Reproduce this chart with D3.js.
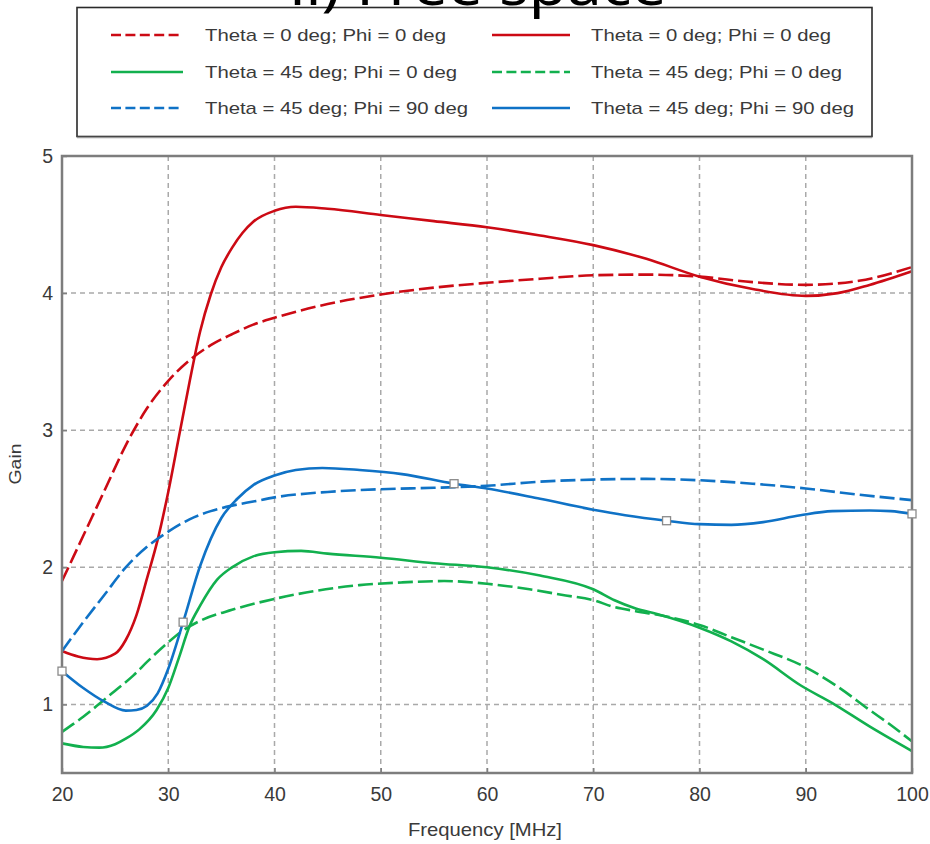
<!DOCTYPE html>
<html>
<head>
<meta charset="utf-8">
<script src="https://cdn.jsdelivr.net/npm/d3@7"></script>
<style>
  html, body { margin: 0; padding: 0; background: #fff; }
  svg { display: block; }
</style>
</head>
<body>
<svg id="chart" width="930" height="844"></svg>
<script>
// ---------------- data ----------------
const titleText = "ii) Free space";
const xTicks = [20, 30, 40, 50, 60, 70, 80, 90, 100];
const yTicks = [1, 2, 3, 4, 5];
const xLabel = "Frequency [MHz]";
const yLabel = "Gain";

// Theta = 0 deg; Phi = 0 deg (dashed)
const redDashF = [20, 22, 24, 26, 28, 30, 32, 34, 36, 38, 40, 45, 50, 55, 60, 65, 70, 75, 80, 85, 90, 95, 100];
const redDashV = [1.9, 2.23, 2.56, 2.89, 3.16, 3.36, 3.51, 3.62, 3.7, 3.77, 3.82, 3.92, 3.99, 4.04, 4.075, 4.105, 4.13, 4.135, 4.12, 4.08, 4.06, 4.09, 4.19];

// Theta = 0 deg; Phi = 0 deg (solid)
const redSolidF = [20, 21.5, 23.3, 25, 26, 27, 28, 29, 30, 31, 32, 33, 34, 35, 36, 37, 38, 40, 42, 45, 50, 55, 60, 65, 70, 75, 80, 85, 90, 93, 96, 100];
const redSolidV = [1.39, 1.35, 1.33, 1.37, 1.47, 1.65, 1.92, 2.2, 2.55, 2.95, 3.35, 3.72, 3.99, 4.19, 4.33, 4.44, 4.52, 4.6, 4.63, 4.615, 4.57, 4.525, 4.48, 4.42, 4.35, 4.25, 4.12, 4.03, 3.98, 4.0, 4.06, 4.16];

// Theta = 45 deg; Phi = 0 deg (solid)
const greenSolidF = [20, 22, 23.5, 25, 26, 27.3, 28.9, 30, 31, 32, 33, 34.6, 36, 38, 40, 42.5, 45, 50, 55, 60, 65, 70, 72, 74, 76, 80, 83, 86, 89.5, 92.5, 96, 100];
const greenSolidV = [0.716, 0.69, 0.685, 0.71, 0.75, 0.82, 0.96, 1.12, 1.34, 1.57, 1.72, 1.91, 2.0, 2.08, 2.11, 2.12, 2.1, 2.07, 2.03, 2.0, 1.94, 1.84, 1.76, 1.7, 1.66, 1.56, 1.46, 1.33, 1.14, 1.01, 0.84, 0.66];

// Theta = 45 deg; Phi = 0 deg (dashed)
const greenDashF = [20, 22, 23.6, 25, 26.7, 28, 29.8, 31.4, 33, 36, 40, 44, 48, 52, 56, 60, 64, 67, 70, 72, 74, 77, 80, 83, 86, 90, 93, 96, 98, 100];
const greenDashV = [0.8, 0.91, 1.01, 1.1, 1.21, 1.31, 1.44, 1.54, 1.61, 1.69, 1.77, 1.83, 1.87, 1.89, 1.9, 1.88, 1.84, 1.8, 1.76, 1.71, 1.68, 1.64, 1.58, 1.49, 1.4, 1.27, 1.13, 0.96, 0.85, 0.73];

// Theta = 45 deg; Phi = 90 deg (dashed)
const blueDashF = [20, 22, 24, 26, 28, 30, 32, 34, 36, 38, 40, 45, 50, 55, 60, 65, 70, 75, 80, 85, 90, 95, 100];
const blueDashV = [1.39, 1.6, 1.8, 2.0, 2.15, 2.26, 2.35, 2.41, 2.45, 2.48, 2.51, 2.55, 2.57, 2.58, 2.595, 2.625, 2.64, 2.645, 2.635, 2.61, 2.575, 2.53, 2.49];

// Theta = 45 deg; Phi = 90 deg (solid)
const blueSolidF = [20, 22, 24, 26, 27, 28, 29, 30, 31.4, 33, 35, 36.5, 38, 40, 42, 44.5, 48, 52, 56.9, 60, 65, 70, 73, 76.9, 80, 83, 86, 89.5, 92.5, 96, 98, 100];
const blueSolidV = [1.243, 1.12, 1.02, 0.955, 0.96, 0.99, 1.08, 1.26, 1.6, 2.01, 2.36, 2.5, 2.6, 2.67, 2.71, 2.725, 2.71, 2.68, 2.61, 2.575, 2.5, 2.42, 2.38, 2.34, 2.315, 2.31, 2.33, 2.38, 2.41, 2.415, 2.41, 2.39];

// marker points on the solid blue curve
const markerF = [20, 31.4, 56.9, 76.9, 100];
const markerV = [1.243, 1.6, 2.61, 2.34, 2.39];

const legendLabels = [
  "Theta = 0 deg; Phi = 0 deg", "Theta = 0 deg; Phi = 0 deg",
  "Theta = 45 deg; Phi = 0 deg", "Theta = 45 deg; Phi = 0 deg",
  "Theta = 45 deg; Phi = 90 deg", "Theta = 45 deg; Phi = 90 deg"
];

// ---------------- styling ----------------
const RED = "#cc0a14", GREEN = "#12b04e", BLUE = "#0f72c6";
const series = [
  { f: redDashF, v: redDashV, color: RED, dashed: true, label: legendLabels[0], row: 0, col: 0 },
  { f: redSolidF, v: redSolidV, color: RED, dashed: false, label: legendLabels[1], row: 0, col: 1 },
  { f: greenSolidF, v: greenSolidV, color: GREEN, dashed: false, label: legendLabels[2], row: 1, col: 0 },
  { f: greenDashF, v: greenDashV, color: GREEN, dashed: true, label: legendLabels[3], row: 1, col: 1 },
  { f: blueDashF, v: blueDashV, color: BLUE, dashed: true, label: legendLabels[4], row: 2, col: 0 },
  { f: blueSolidF, v: blueSolidV, color: BLUE, dashed: false, label: legendLabels[5], row: 2, col: 1 }
];

const svg = d3.select("#chart");
const L = 62, R = 912, T = 156, B = 773;
const x = d3.scaleLinear().domain([20, 100]).range([L, R]);
const y = d3.scaleLinear().domain([0.5, 5]).range([B, T]);

// grid
const grid = svg.append("g").attr("stroke", "#a9a9a9").attr("stroke-width", 1.5).attr("stroke-dasharray", "5,4");
grid.selectAll("line.vx").data(xTicks.filter(d => d > 20 && d < 100)).join("line")
  .attr("x1", d => x(d)).attr("x2", d => x(d)).attr("y1", T).attr("y2", B);
grid.selectAll("line.hy").data(yTicks.filter(d => d < 5)).join("line")
  .attr("x1", L).attr("x2", R).attr("y1", d => y(d)).attr("y2", d => y(d));

// lines
const line = d3.line().curve(d3.curveMonotoneX);
const lineG = svg.append("g").attr("fill", "none").attr("stroke-width", 2.6).attr("stroke-linejoin", "round");
series.forEach(s => {
  lineG.append("path")
    .attr("d", line(s.f.map((f, i) => [x(f), y(s.v[i])])))
    .attr("stroke", s.color)
    .attr("stroke-dasharray", s.dashed ? "15,5" : null);
});

// axes
const fontTick = "'Liberation Sans', Arial, sans-serif";
const xAxis = svg.append("g").attr("transform", `translate(0,${B})`)
  .call(d3.axisBottom(x).tickValues(xTicks).tickSize(-5).tickPadding(14).tickFormat(d3.format("d")));
const yAxis = svg.append("g").attr("transform", `translate(${L},0)`)
  .call(d3.axisLeft(y).tickValues(yTicks).tickSize(-5).tickPadding(9).tickFormat(d3.format("d")));
[xAxis, yAxis].forEach(a => {
  a.select(".domain").remove();
  a.selectAll(".tick line").attr("stroke", "#808080").attr("stroke-width", 1.5);
  a.selectAll(".tick text").attr("fill", "#3a3a3a").style("font-family", fontTick).style("font-size", "19.5px");
});

// frame
svg.append("rect").attr("x", L).attr("y", T).attr("width", R - L).attr("height", B - T)
  .attr("fill", "none").attr("stroke", "#7d7d7d").attr("stroke-width", 2.5);

// markers
svg.append("g").selectAll("rect").data(markerF).join("rect")
  .attr("x", (d) => x(d) - 4).attr("y", (d, i) => y(markerV[i]) - 4)
  .attr("width", 8).attr("height", 8)
  .attr("fill", "#fff").attr("stroke", "#8a8a8a").attr("stroke-width", 1.3);

// axis labels
svg.append("text").attr("x", 485).attr("y", 836).attr("text-anchor", "middle")
  .attr("fill", "#3a3a3a").style("font-family", fontTick).style("font-size", "18.5px")
  .attr("textLength", 154).attr("lengthAdjust", "spacingAndGlyphs").text(xLabel);
svg.append("text").attr("transform", "translate(21,464) rotate(-90)").attr("text-anchor", "middle")
  .attr("fill", "#3a3a3a").style("font-family", fontTick).style("font-size", "16.5px")
  .attr("textLength", 41).attr("lengthAdjust", "spacingAndGlyphs").text(yLabel);

// legend
const lg = svg.append("g");
lg.append("rect").attr("x", 77).attr("y", 7.5).attr("width", 795).attr("height", 129)
  .attr("fill", "#fff").attr("stroke", "#2a2a2a").attr("stroke-width", 1.6);
lg.append("line").attr("x1", 77).attr("x2", 872).attr("y1", 137.5).attr("y2", 137.5)
  .attr("stroke", "#9a9a9a").attr("stroke-width", 1.5);
const rowY = [35, 72, 108];
const colLine = [[111, 183], [492, 570]];
const colText = [205, 591];
const textWidths = [241, 240, 252, 251, 263, 263];
series.forEach((s, i) => {
  const yy = rowY[s.row];
  lg.append("line").attr("x1", colLine[s.col][0]).attr("x2", colLine[s.col][1])
    .attr("y1", yy).attr("y2", yy).attr("stroke", s.color).attr("stroke-width", 2.6)
    .attr("stroke-dasharray", s.dashed ? "10,4.4" : null);
  lg.append("text").attr("x", colText[s.col]).attr("y", yy + 6)
    .attr("fill", "#3a3a3a").style("font-family", fontTick).style("font-size", "17px")
    .attr("textLength", textWidths[i]).attr("lengthAdjust", "spacingAndGlyphs")
    .text(s.label);
});

// title (clipped at top edge, as in the reference)
svg.append("text").attr("x", 478).attr("y", 5).attr("text-anchor", "middle")
  .attr("fill", "#000").style("font-family", "'Noto Sans', 'Open Sans', sans-serif").style("font-size", "56px")
  .attr("textLength", 377).attr("lengthAdjust", "spacingAndGlyphs").text(titleText);
</script>
</body>
</html>
